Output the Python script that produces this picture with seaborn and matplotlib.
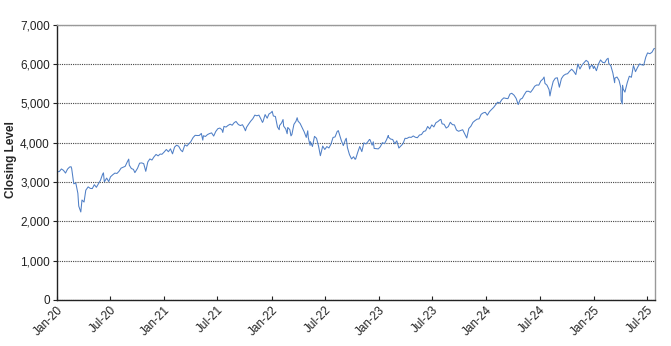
import matplotlib
matplotlib.use("Agg")
import matplotlib.pyplot as plt
import matplotlib.dates as mdates
from matplotlib.ticker import FuncFormatter, MultipleLocator
import pandas as pd
import seaborn as sns

# Weekly closing levels (plus notable intra-week extremes)
dates_2020 = ["2020-01-02", "2020-01-10", "2020-01-17", "2020-01-24", "2020-01-31", "2020-02-07",
              "2020-02-14", "2020-02-19", "2020-02-21", "2020-02-28", "2020-03-06", "2020-03-13",
              "2020-03-16", "2020-03-20", "2020-03-23", "2020-03-27", "2020-04-03", "2020-04-09",
              "2020-04-17", "2020-04-24", "2020-05-01", "2020-05-08", "2020-05-15", "2020-05-22",
              "2020-05-29", "2020-06-05", "2020-06-08", "2020-06-11", "2020-06-19", "2020-06-26",
              "2020-07-02", "2020-07-10", "2020-07-17", "2020-07-24", "2020-07-31", "2020-08-07",
              "2020-08-14", "2020-08-21", "2020-08-28", "2020-09-02", "2020-09-04", "2020-09-11",
              "2020-09-18", "2020-09-23", "2020-10-02", "2020-10-09", "2020-10-16", "2020-10-23",
              "2020-10-30", "2020-11-06", "2020-11-13", "2020-11-20", "2020-11-27", "2020-12-04",
              "2020-12-11", "2020-12-18", "2020-12-24", "2020-12-31"]
close_2020 = [3258, 3265, 3330, 3295, 3226, 3328,
              3380, 3386, 3338, 2954, 2972, 2711,
              2386, 2305, 2237, 2541, 2489, 2790,
              2875, 2837, 2831, 2930, 2864, 2955,
              3044, 3194, 3232, 3002, 3098, 3009,
              3130, 3185, 3225, 3216, 3271, 3351,
              3373, 3397, 3508, 3580, 3427, 3341,
              3319, 3237, 3348, 3477, 3484, 3465,
              3270, 3509, 3585, 3557, 3638, 3699,
              3663, 3709, 3703, 3756]

dates_2021 = ["2021-01-08", "2021-01-15", "2021-01-22", "2021-01-29", "2021-02-05", "2021-02-12",
              "2021-02-19", "2021-02-26", "2021-03-04", "2021-03-12", "2021-03-19", "2021-03-26",
              "2021-04-01", "2021-04-09", "2021-04-16", "2021-04-23", "2021-04-30", "2021-05-07",
              "2021-05-12", "2021-05-14", "2021-05-21", "2021-05-28", "2021-06-04", "2021-06-11",
              "2021-06-18", "2021-06-25", "2021-07-02", "2021-07-09", "2021-07-16", "2021-07-19",
              "2021-07-23", "2021-07-30", "2021-08-06", "2021-08-13", "2021-08-20", "2021-08-27",
              "2021-09-02", "2021-09-10", "2021-09-17", "2021-09-24", "2021-10-01", "2021-10-04",
              "2021-10-08", "2021-10-15", "2021-10-22", "2021-10-29", "2021-11-05", "2021-11-12",
              "2021-11-19", "2021-11-26", "2021-12-01", "2021-12-03", "2021-12-10", "2021-12-17",
              "2021-12-23", "2021-12-31"]
close_2021 = [3825, 3768, 3841, 3714, 3887, 3934,
              3907, 3811, 3768, 3943, 3913, 3975,
              4020, 4129, 4185, 4180, 4181, 4233,
              4063, 4174, 4156, 4204, 4230, 4247,
              4166, 4281, 4352, 4370, 4327, 4258,
              4412, 4395, 4437, 4468, 4442, 4509,
              4537, 4459, 4433, 4455, 4357, 4300,
              4391, 4471, 4545, 4605, 4698, 4682,
              4698, 4595, 4513, 4538, 4712, 4620,
              4726, 4766]

dates_2022 = ["2022-01-03", "2022-01-07", "2022-01-14", "2022-01-21", "2022-01-27", "2022-01-28",
              "2022-02-04", "2022-02-09", "2022-02-11", "2022-02-18", "2022-02-23", "2022-02-25",
              "2022-03-04", "2022-03-08", "2022-03-11", "2022-03-18", "2022-03-25", "2022-03-29",
              "2022-04-01", "2022-04-08", "2022-04-14", "2022-04-22", "2022-04-29", "2022-05-04",
              "2022-05-06", "2022-05-12", "2022-05-13", "2022-05-20", "2022-05-27", "2022-06-03",
              "2022-06-10", "2022-06-16", "2022-06-24", "2022-07-01", "2022-07-08", "2022-07-15",
              "2022-07-22", "2022-07-29", "2022-08-05", "2022-08-12", "2022-08-16", "2022-08-19",
              "2022-08-26", "2022-09-02", "2022-09-09", "2022-09-12", "2022-09-16", "2022-09-23",
              "2022-09-30", "2022-10-07", "2022-10-12", "2022-10-14", "2022-10-21", "2022-10-28",
              "2022-11-04", "2022-11-11", "2022-11-18", "2022-11-25", "2022-11-30", "2022-12-02",
              "2022-12-09", "2022-12-13", "2022-12-16", "2022-12-23", "2022-12-30"]
close_2022 = [4797, 4677, 4663, 4398, 4327, 4432,
              4500, 4587, 4419, 4349, 4226, 4385,
              4329, 4171, 4204, 4463, 4543, 4632,
              4546, 4488, 4393, 4272, 4132, 4300,
              4123, 3930, 4024, 3901, 4158, 4109,
              3901, 3667, 3912, 3825, 3899, 3863,
              3962, 4130, 4145, 4280, 4305, 4228,
              4058, 3924, 4067, 4110, 3873, 3693,
              3586, 3640, 3577, 3583, 3752, 3901,
              3771, 3993, 3965, 4026, 4080, 4072,
              3934, 4020, 3852, 3845, 3840]

dates_2023 = ["2023-01-06", "2023-01-13", "2023-01-20", "2023-01-27", "2023-02-02", "2023-02-03",
              "2023-02-10", "2023-02-17", "2023-02-24", "2023-03-03", "2023-03-10", "2023-03-17",
              "2023-03-24", "2023-03-31", "2023-04-06", "2023-04-14", "2023-04-21", "2023-04-28",
              "2023-05-05", "2023-05-12", "2023-05-19", "2023-05-26", "2023-06-02", "2023-06-09",
              "2023-06-16", "2023-06-23", "2023-06-30", "2023-07-07", "2023-07-14", "2023-07-21",
              "2023-07-28", "2023-07-31", "2023-08-04", "2023-08-11", "2023-08-18", "2023-08-25",
              "2023-09-01", "2023-09-08", "2023-09-15", "2023-09-22", "2023-09-29", "2023-10-06",
              "2023-10-13", "2023-10-20", "2023-10-27", "2023-11-03", "2023-11-10", "2023-11-17",
              "2023-11-24", "2023-12-01", "2023-12-08", "2023-12-15", "2023-12-22", "2023-12-29"]
close_2023 = [3895, 3999, 3973, 4071, 4180, 4136,
              4090, 4079, 3970, 4046, 3862, 3917,
              3971, 4109, 4105, 4138, 4133, 4169,
              4136, 4124, 4192, 4205, 4282, 4299,
              4410, 4348, 4450, 4399, 4505, 4536,
              4582, 4589, 4478, 4464, 4370, 4406,
              4516, 4457, 4450, 4320, 4288, 4309,
              4327, 4224, 4117, 4358, 4415, 4514,
              4559, 4595, 4604, 4719, 4755, 4770]

dates_2024 = ["2024-01-05", "2024-01-12", "2024-01-19", "2024-01-26", "2024-02-02", "2024-02-09",
              "2024-02-16", "2024-02-23", "2024-03-01", "2024-03-08", "2024-03-15", "2024-03-22",
              "2024-03-28", "2024-04-05", "2024-04-12", "2024-04-19", "2024-04-26", "2024-05-03",
              "2024-05-10", "2024-05-17", "2024-05-24", "2024-05-31", "2024-06-07", "2024-06-14",
              "2024-06-21", "2024-06-28", "2024-07-05", "2024-07-12", "2024-07-16", "2024-07-19",
              "2024-07-26", "2024-08-02", "2024-08-05", "2024-08-09", "2024-08-16", "2024-08-23",
              "2024-08-30", "2024-09-06", "2024-09-13", "2024-09-20", "2024-09-27", "2024-10-04",
              "2024-10-11", "2024-10-18", "2024-10-25", "2024-11-01", "2024-11-08", "2024-11-15",
              "2024-11-22", "2024-11-29", "2024-12-06", "2024-12-13", "2024-12-18", "2024-12-20",
              "2024-12-27", "2024-12-31"]
close_2024 = [4697, 4784, 4840, 4891, 4959, 5027,
              5006, 5089, 5137, 5124, 5117, 5234,
              5254, 5204, 5123, 4967, 5100, 5128,
              5223, 5303, 5305, 5278, 5347, 5432,
              5465, 5460, 5567, 5615, 5667, 5505,
              5459, 5346, 5186, 5344, 5554, 5635,
              5648, 5408, 5626, 5703, 5738, 5751,
              5815, 5865, 5808, 5729, 5996, 5871,
              5969, 6032, 6090, 6051, 5872, 5931,
              5971, 5882]

dates_2025 = ["2025-01-03", "2025-01-10", "2025-01-17", "2025-01-24", "2025-01-31", "2025-02-07",
              "2025-02-14", "2025-02-19", "2025-02-21", "2025-02-28", "2025-03-07", "2025-03-13",
              "2025-03-14", "2025-03-21", "2025-03-28", "2025-04-03", "2025-04-04", "2025-04-08",
              "2025-04-09", "2025-04-11", "2025-04-17", "2025-04-25", "2025-05-02", "2025-05-09",
              "2025-05-16", "2025-05-23", "2025-05-30", "2025-06-06", "2025-06-13", "2025-06-20",
              "2025-06-27", "2025-07-03", "2025-07-11", "2025-07-18", "2025-07-25", "2025-07-28"]
close_2025 = [5942, 5827, 5997, 6101, 6041, 6026,
              6115, 6144, 6013, 5955, 5770, 5522,
              5639, 5667, 5581, 5397, 5074, 4983,
              5457, 5363, 5283, 5525, 5687, 5660,
              5958, 5803, 5912, 6000, 5977, 5968,
              6173, 6279, 6260, 6297, 6389, 6390]

all_dates = dates_2020 + dates_2021 + dates_2022 + dates_2023 + dates_2024 + dates_2025
all_close = close_2020 + close_2021 + close_2022 + close_2023 + close_2024 + close_2025
df = pd.DataFrame({"date": pd.to_datetime(all_dates), "close": all_close})

sns.set_theme(style="white")
plt.rcParams["font.family"] = ["Liberation Sans", "DejaVu Sans"]

fig = plt.figure(figsize=(6.71, 3.46), dpi=100)
ax = fig.add_axes([0.0845, 0.133, 0.8915, 0.796])

sns.lineplot(data=df, x="date", y="close", ax=ax, color="#4f7fc6", linewidth=0.75)

ax.set_xlim(pd.Timestamp("2020-01-01"), pd.Timestamp("2025-07-28"))
ax.set_ylim(0, 7000)

ax.yaxis.set_major_locator(MultipleLocator(1000))
ax.yaxis.set_major_formatter(FuncFormatter(lambda v, p: f"{int(v):,}"))
ax.xaxis.set_major_locator(mdates.MonthLocator(bymonth=[1, 7]))
ax.xaxis.set_major_formatter(mdates.DateFormatter("%b-%y"))

ax.grid(axis="y", linestyle=(0, (1, 1)), color="#444444", linewidth=0.8)
ax.grid(axis="x", visible=False)
ax.set_axisbelow(True)

for side in ["left", "bottom"]:
    ax.spines[side].set_color("#222222")
    ax.spines[side].set_linewidth(1.0)
for side in ["top", "right"]:
    ax.spines[side].set_color("#999999")
    ax.spines[side].set_linewidth(1.0)

ax.tick_params(axis="y", direction="out", length=3, width=0.8, color="#222222",
               labelsize=8.5, pad=2, left=True, labelcolor="#222222")
ax.tick_params(axis="x", direction="in", length=3, width=0.8, color="#222222",
               labelsize=8.5, pad=3, bottom=True, labelcolor="#222222")
plt.setp(ax.get_xticklabels(), rotation=45, ha="right", rotation_mode="anchor")

ax.set_xlabel("")
ax.set_ylabel("Closing Level", fontsize=8.5, fontweight="bold")
ax.yaxis.set_label_coords(-0.066, 0.51)

fig.savefig("out.png", dpi=100)
